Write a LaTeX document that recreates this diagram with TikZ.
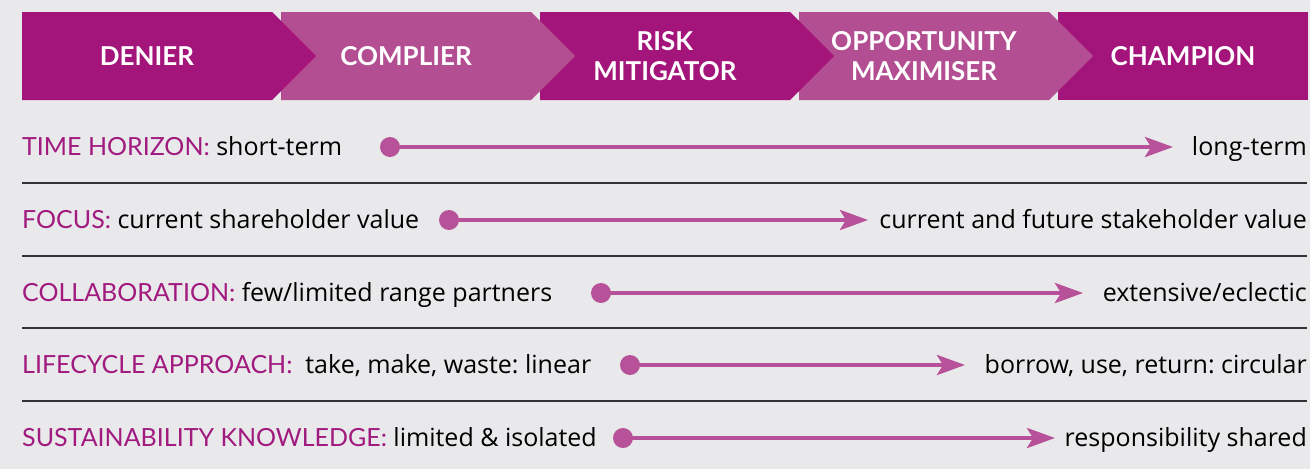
\documentclass[tikz,border=0pt]{standalone}
\usepackage{fontspec}
\setmainfont{Lato}
\newfontfamily\valfont{Open Sans}
\usetikzlibrary{arrows.meta,positioning}
\frenchspacing

\definecolor{darkmag}{HTML}{A3157A}
\definecolor{lightmag}{HTML}{B24E91}
\definecolor{arrowmag}{HTML}{B6519A}
\definecolor{labmag}{HTML}{A11A7F}
\definecolor{bggrey}{HTML}{E9E9EB}

\tikzset{
  stage/.style={text=white, font=\bfseries\fontsize{26}{30}\selectfont, align=center},
  rowtext/.style={font=\valfont\fontsize{25}{28}\selectfont, inner sep=0pt},
  dot/.style={circle, fill=arrowmag, minimum size=20pt, inner sep=0pt},
  scale arrow/.style={arrowmag, line width=4pt, -{Stealth[length=28pt,width=20pt,inset=6pt]}},
  rule/.style={black!80, line width=1.2pt}
}
\newcommand{\lab}[1]{{\rmfamily\fontsize{25}{28}\selectfont\color{labmag}#1}}

\begin{document}
\begin{tikzpicture}[x=1pt,y=-1pt]
    \fill[bggrey] (0,0) rectangle (1310,469);
    \useasboundingbox (0,0) rectangle (1310,469);
    % stages, drawn right to left so each tip lies on top
    \fill[darkmag] (1058,12) rectangle (1308,100);
    \foreach \i/\col in {3/lightmag,2/darkmag,1/lightmag,0/darkmag}{
        \pgfmathsetmacro\xs{22+259*\i}
        \fill[\col] (\xs,12) -- ({\xs+250},12) -- ({\xs+294},56) -- ({\xs+250},100) -- (\xs,100) -- cycle;
    }
    \node[stage] (denier) at (147,56) {DENIER};
    \node[stage] (complier) at (406,56) {COMPLIER};
    \node[stage] (mitigator) at (665,56) {RISK\\MITIGATOR};
    \node[stage] (maximiser) at (924,56) {OPPORTUNITY\\MAXIMISER};
    \node[stage] (champion) at (1183,56) {CHAMPION};
    % rules between rows
    \foreach \y in {183,256,328,401}
        \draw[rule] (22,\y) -- (1307,\y);
    % rows
    \node[rowtext, anchor=base west] (time) at (22,155) {\lab{TIME HORIZON:} short-term};
    \node[rowtext, anchor=base east] (long) at (1307,155) {long-term};
    \node[dot] (d1) at (390,147) {};
    \coordinate (t1) at (1173,147);
    \draw[scale arrow] (d1.center) -- (t1);

    \node[rowtext, anchor=base west] (focus) at (22,228) {\lab{FOCUS:} current shareholder value};
    \node[rowtext, anchor=base east] (future) at (1307,228) {current and future stakeholder value};
    \node[dot] (d2) at (449,220) {};
    \coordinate (t2) at (868,220);
    \draw[scale arrow] (d2.center) -- (t2);

    \node[rowtext, anchor=base west] (collab) at (22,301) {\lab{COLLABORATION:} few/limited range partners};
    \node[rowtext, anchor=base east] (eclectic) at (1307,301) {extensive/eclectic};
    \node[dot] (d3) at (601,293) {};
    \coordinate (t3) at (1083,293);
    \draw[scale arrow] (d3.center) -- (t3);

    \node[rowtext, anchor=base west] (life) at (22,373) {\lab{LIFECYCLE APPROACH:}\ \ take, make, waste: linear};
    \node[rowtext, anchor=base east] (circular) at (1307,373) {borrow, use, return: circular};
    \node[dot] (d4) at (630,365) {};
    \coordinate (t4) at (965,365);
    \draw[scale arrow] (d4.center) -- (t4);

    \node[rowtext, anchor=base west] (know) at (22,446) {\lab{SUSTAINABILITY KNOWLEDGE:} limited \& isolated};
    \node[rowtext, anchor=base east] (shared) at (1307,446) {responsibility shared};
    \node[dot] (d5) at (623,438) {};
    \coordinate (t5) at (1055,438);
    \draw[scale arrow] (d5.center) -- (t5);
\end{tikzpicture}
\end{document}
